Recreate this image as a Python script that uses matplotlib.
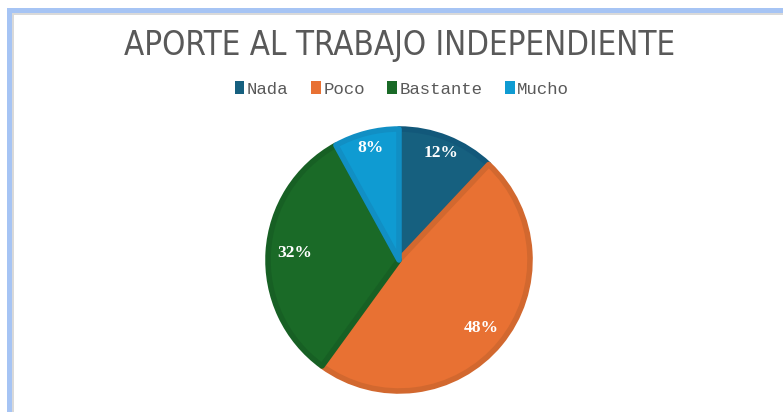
import numpy as np
import matplotlib.pyplot as plt
from matplotlib.patches import Rectangle

# chart data
categories = ["Nada", "Poco", "Bastante", "Mucho"]
values = [12, 48, 32, 8]
colors = ["#16607F", "#E87133", "#1A6A27", "#0F9BD2"]
edge_colors = ["#12587A", "#D2682F", "#176024", "#118FC4"]
title = "APORTE AL TRABAJO INDEPENDIENTE"

W, H = 783, 412
fig = plt.figure(figsize=(W / 100, H / 100), dpi=100)
fig.patch.set_facecolor("white")

# light blue frame (top and left sides visible)
fig.patches.append(Rectangle((7 / W, 0), 5 / W, (H - 8) / H, transform=fig.transFigure,
                             facecolor="#A6C4F4", edgecolor="none"))
fig.patches.append(Rectangle((7 / W, (H - 13) / H), (W - 7) / W, 5 / H, transform=fig.transFigure,
                             facecolor="#A6C4F4", edgecolor="none"))
fig.patches.append(Rectangle((12 / W, 0), 1.5 / W, (H - 13) / H, transform=fig.transFigure,
                             facecolor="#D9D9D9", edgecolor="none"))
fig.patches.append(Rectangle((12 / W, (H - 14.5) / H), (W - 12) / W, 1.5 / H, transform=fig.transFigure,
                             facecolor="#D9D9D9", edgecolor="none"))

fig.text(400 / W, 1 - 46 / H, title, ha="center", va="center", fontsize=23.7,
         color="#595959", family="DejaVu Sans", fontstretch="condensed")

# pie axes centred at (399, 260), radius 131 px
cx, cy, r = 399, 260, 131
ax = fig.add_axes([(cx - r) / W, (H - cy - r) / H, 2 * r / W, 2 * r / H])
wedges, texts = ax.pie(
    values,
    colors=colors,
    startangle=90,
    counterclock=False,
    wedgeprops=dict(linewidth=4, joinstyle="round"),
)
for w, ec in zip(wedges, edge_colors):
    w.set_edgecolor(ec)
    w.set_clip_on(False)

# percentage labels, Excel-like placement
label_dist = [0.88, 0.81, 0.80, 0.88]
total = sum(values)
for w, v, d in zip(wedges, values, label_dist):
    ang = np.deg2rad((w.theta1 + w.theta2) / 2)
    ax.text(d * np.cos(ang), d * np.sin(ang), f"{round(100 * v / total)}%",
            ha="center", va="center", color="white", fontsize=12.5, fontweight="bold",
            family=["Liberation Serif", "DejaVu Serif"])
ax.set_xlim(-1, 1)
ax.set_ylim(-1, 1)
ax.set_aspect("equal")
ax.axis("off")

leg = fig.legend(wedges, categories, loc="center", bbox_to_anchor=(402 / W, 1 - 89 / H),
                 ncol=4, frameon=False, handlelength=0.55, handleheight=0.7,
                 handletextpad=0.15, columnspacing=1.3,
                 prop=dict(family=["Liberation Mono", "DejaVu Sans Mono"], size=12.5))
for t in leg.get_texts():
    t.set_color("#595959")
for hnd in leg.legend_handles:
    hnd.set_linewidth(0)

fig.savefig("out.png", dpi=100)
